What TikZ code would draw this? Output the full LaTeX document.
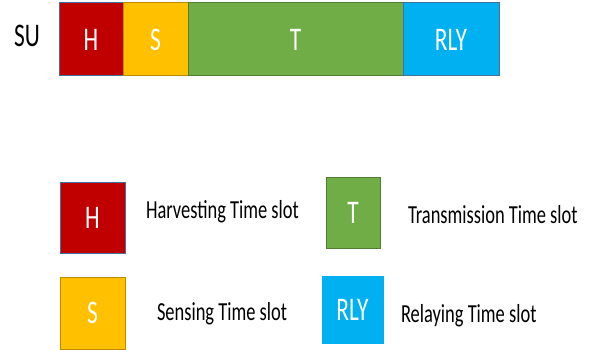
\documentclass[tikz,border=0pt]{standalone}
\usepackage{fontspec}
\setmainfont[FakeStretch=0.71]{Carlito}
\usetikzlibrary{positioning}
\definecolor{hred}{HTML}{C00000}
\definecolor{syel}{HTML}{FFC000}
\definecolor{tgrn}{HTML}{70AD47}
\definecolor{rblu}{HTML}{00B0F0}
\definecolor{hline}{HTML}{41719C}
\definecolor{sline}{HTML}{BC8C00}
\definecolor{tline}{HTML}{507E32}

\begin{document}
\begin{tikzpicture}[x=1pt, y=-1pt, node distance=0pt,
  every node/.style={inner sep=0pt, outer sep=0pt},
  slot/.style={draw, line width=1pt, minimum height=73pt, text=white, font=\fontsize{33}{36}\selectfont},
  legbox/.style={draw, line width=1pt, anchor=north west, text=white, font=\fontsize{33}{36}\selectfont},
  legtext/.style={anchor=base west, font=\fontsize{26}{30}\selectfont}]
	\useasboundingbox (0,0) rectangle (589,350);
	% time frame of the SU
	\node[anchor=base west, font=\fontsize{33}{36}\selectfont] (su) at (14,47) {SU};
	\node[slot, fill=hred, draw=hline, minimum width=64pt, anchor=north west] (h) at (59,3) {H};
	\node[slot, fill=syel, draw=sline, minimum width=65pt, right=of h] (s) {S};
	\node[slot, fill=tgrn, draw=tline, minimum width=215pt, right=of s] (t) {T};
	\node[slot, fill=rblu, draw=hline, minimum width=96pt, right=of t] (rly) {RLY};
	
	% legend
	\node[legbox, fill=hred, draw=hline, minimum width=65pt, minimum height=71pt] (hleg) at (60,182) {H};
	\node[legtext] (htxt) at (146,218) {Harvesting Time slot};
	\node[legbox, fill=tgrn, draw=tline, minimum width=54pt, minimum height=71pt] (tleg) at (326,177) {T};
	\node[legtext] (ttxt) at (408,223) {Transmission Time slot};
	\node[legbox, fill=syel, draw=sline, minimum width=65pt, minimum height=72pt] (sleg) at (60,277) {S};
	\node[legtext] (stxt) at (157,320) {Sensing Time slot};
	\node[legbox, fill=rblu, draw=rblu, minimum width=61pt, minimum height=67pt] (rleg) at (322,276) {RLY};
	\node[legtext] (rtxt) at (401,322) {Relaying Time slot};
\end{tikzpicture}
\end{document}
